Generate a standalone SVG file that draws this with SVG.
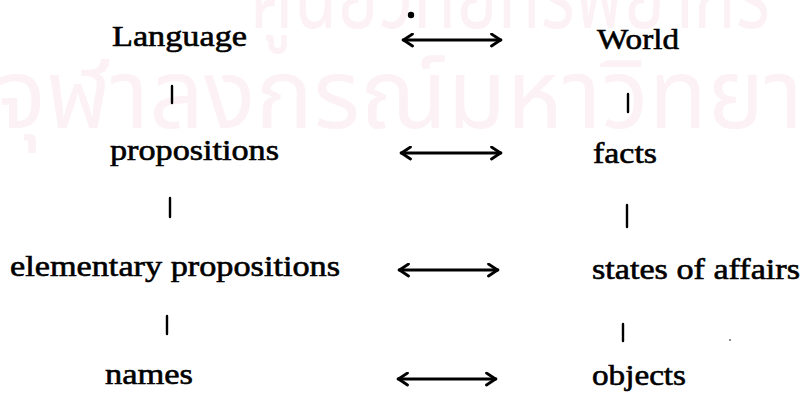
<svg xmlns="http://www.w3.org/2000/svg" width="805" height="403" viewBox="0 0 805 403">
<defs>
<style>
.wm{font-family:"Noto Sans Thai","Noto Serif Thai","Noto Sans","DejaVu Sans",sans-serif;font-size:96px;fill:#fcf1f5}
.t{font-family:"Liberation Serif","Times New Roman",serif;font-size:30px;fill:#000;stroke:#000;stroke-width:0.6}
.bar{stroke:#000;stroke-width:2.4;stroke-linecap:round}
.arr{stroke:#000;stroke-width:2.8;fill:none;stroke-linecap:round}
</style>
<marker id="ah" viewBox="0 0 13 15" refX="12" refY="7.5" markerWidth="13" markerHeight="15" markerUnits="userSpaceOnUse" orient="auto-start-reverse">
<path d="M2.5,1.5 L11.5,7.5 L2.5,13.5" fill="none" stroke="#000" stroke-width="2.8" stroke-linecap="round" stroke-linejoin="round"/>
</marker>
</defs>
<rect width="805" height="403" fill="#fff"/>
<g id="watermark">
<text class="wm" x="250" y="28" textLength="520" lengthAdjust="spacingAndGlyphs">ศูนย์วิทยทรัพยากร</text>
<text class="wm" x="-5" y="128">จุฬาลงกรณ์มหาวิทยาลัย</text>
</g>
<g id="connectors">
<line class="arr" x1="403" y1="40" x2="501" y2="40" marker-start="url(#ah)" marker-end="url(#ah)"/>
<line class="arr" x1="401" y1="153" x2="501" y2="153" marker-start="url(#ah)" marker-end="url(#ah)"/>
<line class="arr" x1="399" y1="270" x2="498" y2="270" marker-start="url(#ah)" marker-end="url(#ah)"/>
<line class="arr" x1="398" y1="379" x2="496" y2="379" marker-start="url(#ah)" marker-end="url(#ah)"/>
<line class="bar" x1="172" y1="86" x2="172" y2="103"/>
<line class="bar" x1="170" y1="198" x2="170" y2="217"/>
<line class="bar" x1="167" y1="316" x2="167" y2="334"/>
<line class="bar" x1="628" y1="94" x2="628" y2="112"/>
<line class="bar" x1="627" y1="205" x2="627" y2="227"/>
<line class="bar" x1="623" y1="324" x2="623" y2="341"/>
<circle cx="411" cy="15" r="3.2" fill="#000"/>
<circle cx="730" cy="340" r="0.9" fill="#555"/>
</g>
<g id="n-language"><text class="t" x="112" y="46" textLength="135" lengthAdjust="spacingAndGlyphs">Language</text></g>
<g id="n-world"><text class="t" x="597" y="49" textLength="82" lengthAdjust="spacingAndGlyphs">World</text></g>
<g id="n-propositions"><text class="t" x="110" y="160" textLength="169" lengthAdjust="spacingAndGlyphs">propositions</text></g>
<g id="n-facts"><text class="t" x="593" y="163" textLength="64" lengthAdjust="spacingAndGlyphs">facts</text></g>
<g id="n-elementary"><text class="t" x="10" y="276" textLength="330" lengthAdjust="spacingAndGlyphs">elementary propositions</text></g>
<g id="n-states"><text class="t" x="592" y="279" textLength="208" lengthAdjust="spacingAndGlyphs">states of affairs</text></g>
<g id="n-names"><text class="t" x="105" y="384" textLength="88" lengthAdjust="spacingAndGlyphs">names</text></g>
<g id="n-objects"><text class="t" x="592" y="385" textLength="94" lengthAdjust="spacingAndGlyphs">objects</text></g>
</svg>
